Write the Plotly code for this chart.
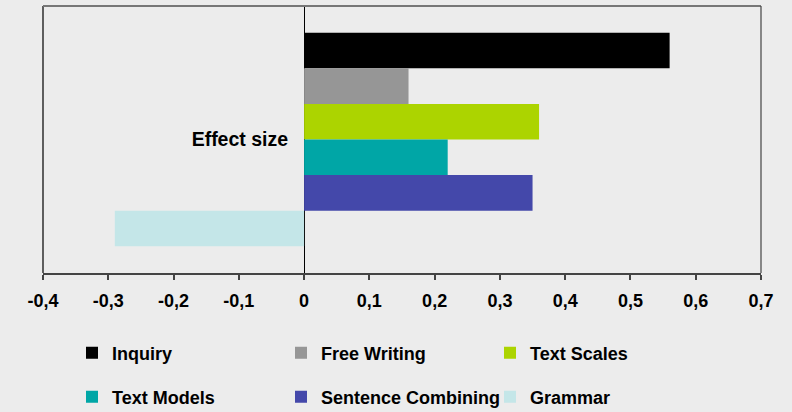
import plotly.graph_objects as go

categories = ["Effect size"]
series_names = ["Inquiry", "Free Writing", "Text Scales", "Text Models", "Sentence Combining", "Grammar"]
series_values = [0.56, 0.16, 0.36, 0.22, 0.35, -0.29]
series_colors = ["#000000", "#969696", "#acd400", "#00a6a6", "#4448aa", "#c4e6e8"]
x_tick_vals = [-0.4, -0.3, -0.2, -0.1, 0, 0.1, 0.2, 0.3, 0.4, 0.5, 0.6, 0.7]
x_tick_text = ["-0,4", "-0,3", "-0,2", "-0,1", "0", "0,1", "0,2", "0,3", "0,4", "0,5", "0,6", "0,7"]

FONT = "Liberation Sans, Arial, sans-serif"
BG = "#ececec"

fig = go.Figure()
for i, (name, val, col) in enumerate(zip(series_names, series_values, series_colors)):
    fig.add_trace(go.Bar(
        y=categories, x=[val], name=name, orientation="h",
        marker=dict(color=col, line=dict(width=0)),
        legend="legend" if i < 3 else "legend2",
    ))

xmin, xmax = -0.4, 0.7
legend_common = dict(
    orientation="h", xanchor="left", yanchor="middle",
    xref="container", yref="container",
    font=dict(family=FONT, size=18, color="#000000", weight="bold"),
    bgcolor="rgba(0,0,0,0)", entrywidth=164, entrywidthmode="pixels",
    itemclick=False, itemdoubleclick=False,
)
fig.update_layout(
    width=792, height=412,
    margin=dict(l=43, r=31, t=6, b=139),
    paper_bgcolor=BG, plot_bgcolor=BG,
    barmode="group", bargap=0.2,
    font=dict(family=FONT, size=18, color="#000000"),
    xaxis=dict(
        range=[xmin, xmax], tickvals=x_tick_vals, ticktext=x_tick_text,
        showgrid=False, zeroline=True, zerolinecolor="#000000", zerolinewidth=1,
        showline=True, linecolor="#444444", linewidth=1.5,
        ticks="outside", ticklen=5, tickcolor="#444444", tickwidth=1.5,
        tickfont=dict(family=FONT, size=18, color="#000000", weight="bold"),
        ticklabelstandoff=6, automargin=False,
    ),
    yaxis=dict(
        anchor="free", position=(0 - xmin) / (xmax - xmin), side="left",
        autorange="reversed", showgrid=False, zeroline=False,
        showline=False, ticks="", ticklabelstandoff=16, automargin=False,
        tickfont=dict(family=FONT, size=19.5, color="#000000", weight="bold"),
    ),
    legend=dict(x=72 / 792, y=1 - 353 / 412, **legend_common),
    legend2=dict(x=72 / 792, y=1 - 397 / 412, **legend_common),
    showlegend=True,
    shapes=[
        dict(type="line", xref="paper", yref="paper", x0=0, x1=0, y0=0, y1=1,
             line=dict(color="#000000", width=1.2)),
        dict(type="line", xref="paper", yref="paper", x0=0, x1=1, y0=1, y1=1,
             line=dict(color="#777777", width=2)),
        dict(type="line", xref="paper", yref="paper", x0=1, x1=1, y0=0, y1=1,
             line=dict(color="#444444", width=1.2)),
    ],
)

fig.write_html(
    "out.html",
    config={"displayModeBar": False},
    post_script="document.body.style.margin='0';document.body.style.padding='0';",
)
